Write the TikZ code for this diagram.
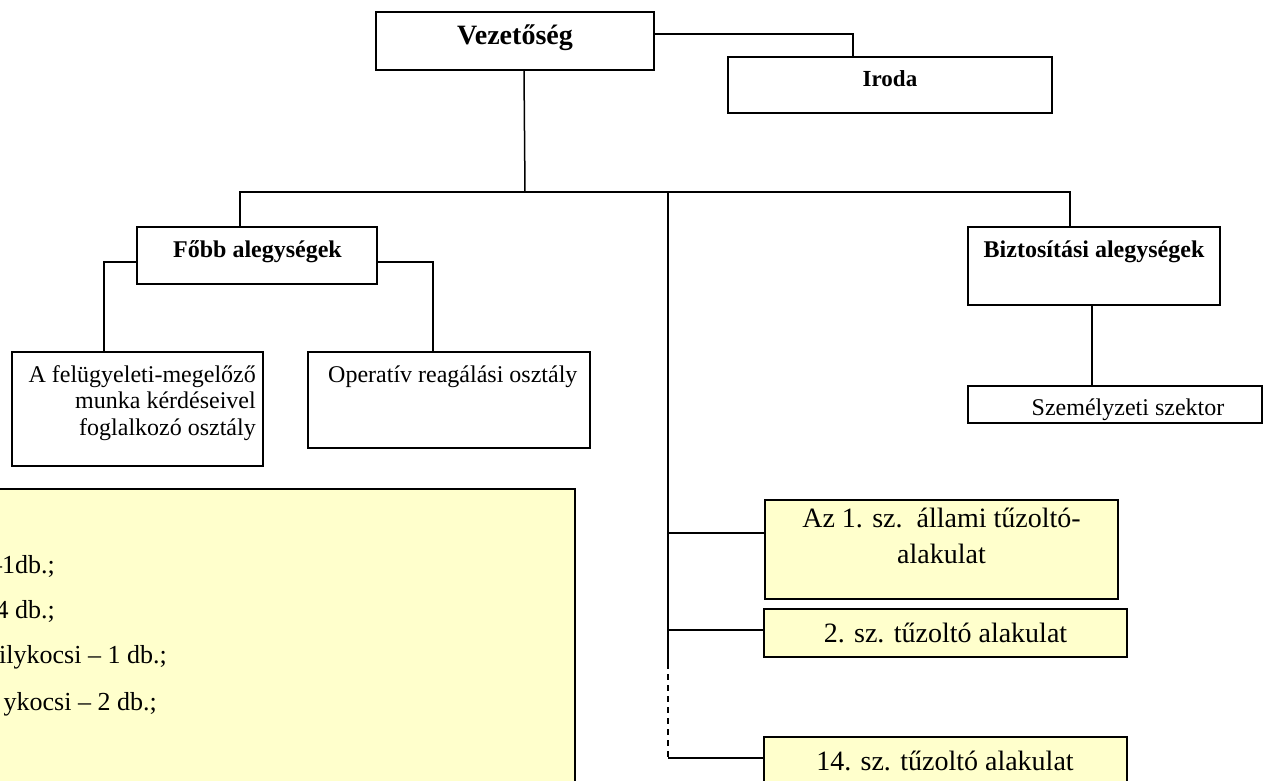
\documentclass[tikz,border=0pt]{standalone}
\usepackage{fontspec}
\setmainfont{Liberation Serif}
\definecolor{paleyellow}{HTML}{FFFFCC}
\begin{document}
\begin{tikzpicture}[x=1pt,y=-1pt,
  box/.style={draw=black, line width=1.6pt, inner sep=0pt, minimum width=#1},
  ybox/.style={box=#1, fill=paleyellow},
  link/.style={line width=1.5pt},
  lbl/.style={inner sep=0pt, anchor=base, font=\fontsize{24}{29}\selectfont},
  blbl/.style={lbl, font=\fontsize{#1}{#1}\selectfont\bfseries},
  ylbl/.style={lbl, font=\fontsize{28}{36}\selectfont}
]
\useasboundingbox (0,0) rectangle (1277,781);
\clip (0,0) rectangle (1277,781);

% boxes
\node[box=278pt, minimum height=58pt] (vez) at (515,41) {};
\node[box=324pt, minimum height=56pt] (iroda) at (890,85) {};
\node[box=240pt, minimum height=57pt] (fobb) at (257,255.5) {};
\node[box=251pt, minimum height=114pt] (felugy) at (137.5,409) {};
\node[box=282pt, minimum height=96pt] (oper) at (449,400) {};
\node[box=252pt, minimum height=78pt] (bizt) at (1094,266) {};
\node[box=294pt, minimum height=37pt] (szem) at (1115,404.5) {};
\node[ybox=600pt, minimum height=320pt] (tech) at (275,649) {};
\node[ybox=353pt, minimum height=99pt] (az1) at (941.5,549.5) {};
\node[ybox=363pt, minimum height=48pt] (sz2) at (945.5,633) {};
\node[ybox=363pt, minimum height=63pt] (sz14) at (945.5,768.5) {};

% labels
\node[blbl=28] (tvez) at (515,45) {Vezetőség};
\node[blbl=23] (tiroda) at (890,87) {Iroda};
\node[blbl=24] (tfobb) at (257.5,257) {Főbb alegységek};
\node[blbl=24] (tbizt) at (1094,257) {Biztosítási alegységek};
\node[lbl, anchor=base east] (tf1) at (256,382) {A felügyeleti-megelőző};
\node[lbl, anchor=base east] (tf2) at (256,408.5) {munka kérdéseivel};
\node[lbl, anchor=base east] (tf3) at (256,435) {foglalkozó osztály};
\node[lbl, anchor=base west] (toper) at (328,382) {Operatív reagálási osztály};
\node[lbl] (tszem) at (1128,415) {Személyzeti szektor};
\node[ylbl] (taz1a) at (941.5,527) {Az 1. sz.\ \ állami tűzoltó-};
\node[ylbl] (taz1b) at (941.5,563) {alakulat};
\node[ylbl] (tsz2) at (945.5,642) {2. sz. tűzoltó alakulat};
\node[ylbl] (tsz14) at (945,770) {14. sz. tűzoltó alakulat};

% equipment list
\begin{scope}[every node/.style={inner sep=0pt, anchor=base east, font=\fontsize{26}{30}\selectfont}]
\node (e1) at (55,573) {–1db.;};
\node (e2) at (55,618) {4 db.;};
\node (e3) at (167,663) {ilykocsi – 1 db.;};
\node (e4) at (157,710) {ykocsi – 2 db.;};
\end{scope}

% connectors
\coordinate (hub) at (525,192);
\coordinate (trunk) at (668,192);
\coordinate (solidend) at (668,663);
\coordinate (dashend) at (668,758);

\draw[link] ([yshift=7pt]vez.east) -| ([xshift=-37pt]iroda.north);
\draw[link] ([xshift=9pt]vez.south) -- (hub);
\draw[link] ([xshift=-17pt]fobb.north) |- (hub) -| ([xshift=-24pt]bizt.north);
\draw[link] ([yshift=-6.5pt]fobb.west) -| ([xshift=-33.5pt]felugy.north);
\draw[link] ([yshift=-6.5pt]fobb.east) -| ([xshift=-16pt]oper.north);
\draw[link] ([xshift=-2pt]bizt.south) -- ([xshift=-23pt]szem.north);

\draw[link] (trunk) -- (solidend);
\draw[link, dash pattern=on 6pt off 5pt] (solidend) -- (dashend);
\draw[link] ([yshift=16.5pt]az1.west) -- ++(-97,0);
\draw[link] ([yshift=3pt]sz2.west) -- ++(-96,0);
\draw[link] (dashend) -- ([yshift=10.5pt]sz14.west);
\end{tikzpicture}
\end{document}
